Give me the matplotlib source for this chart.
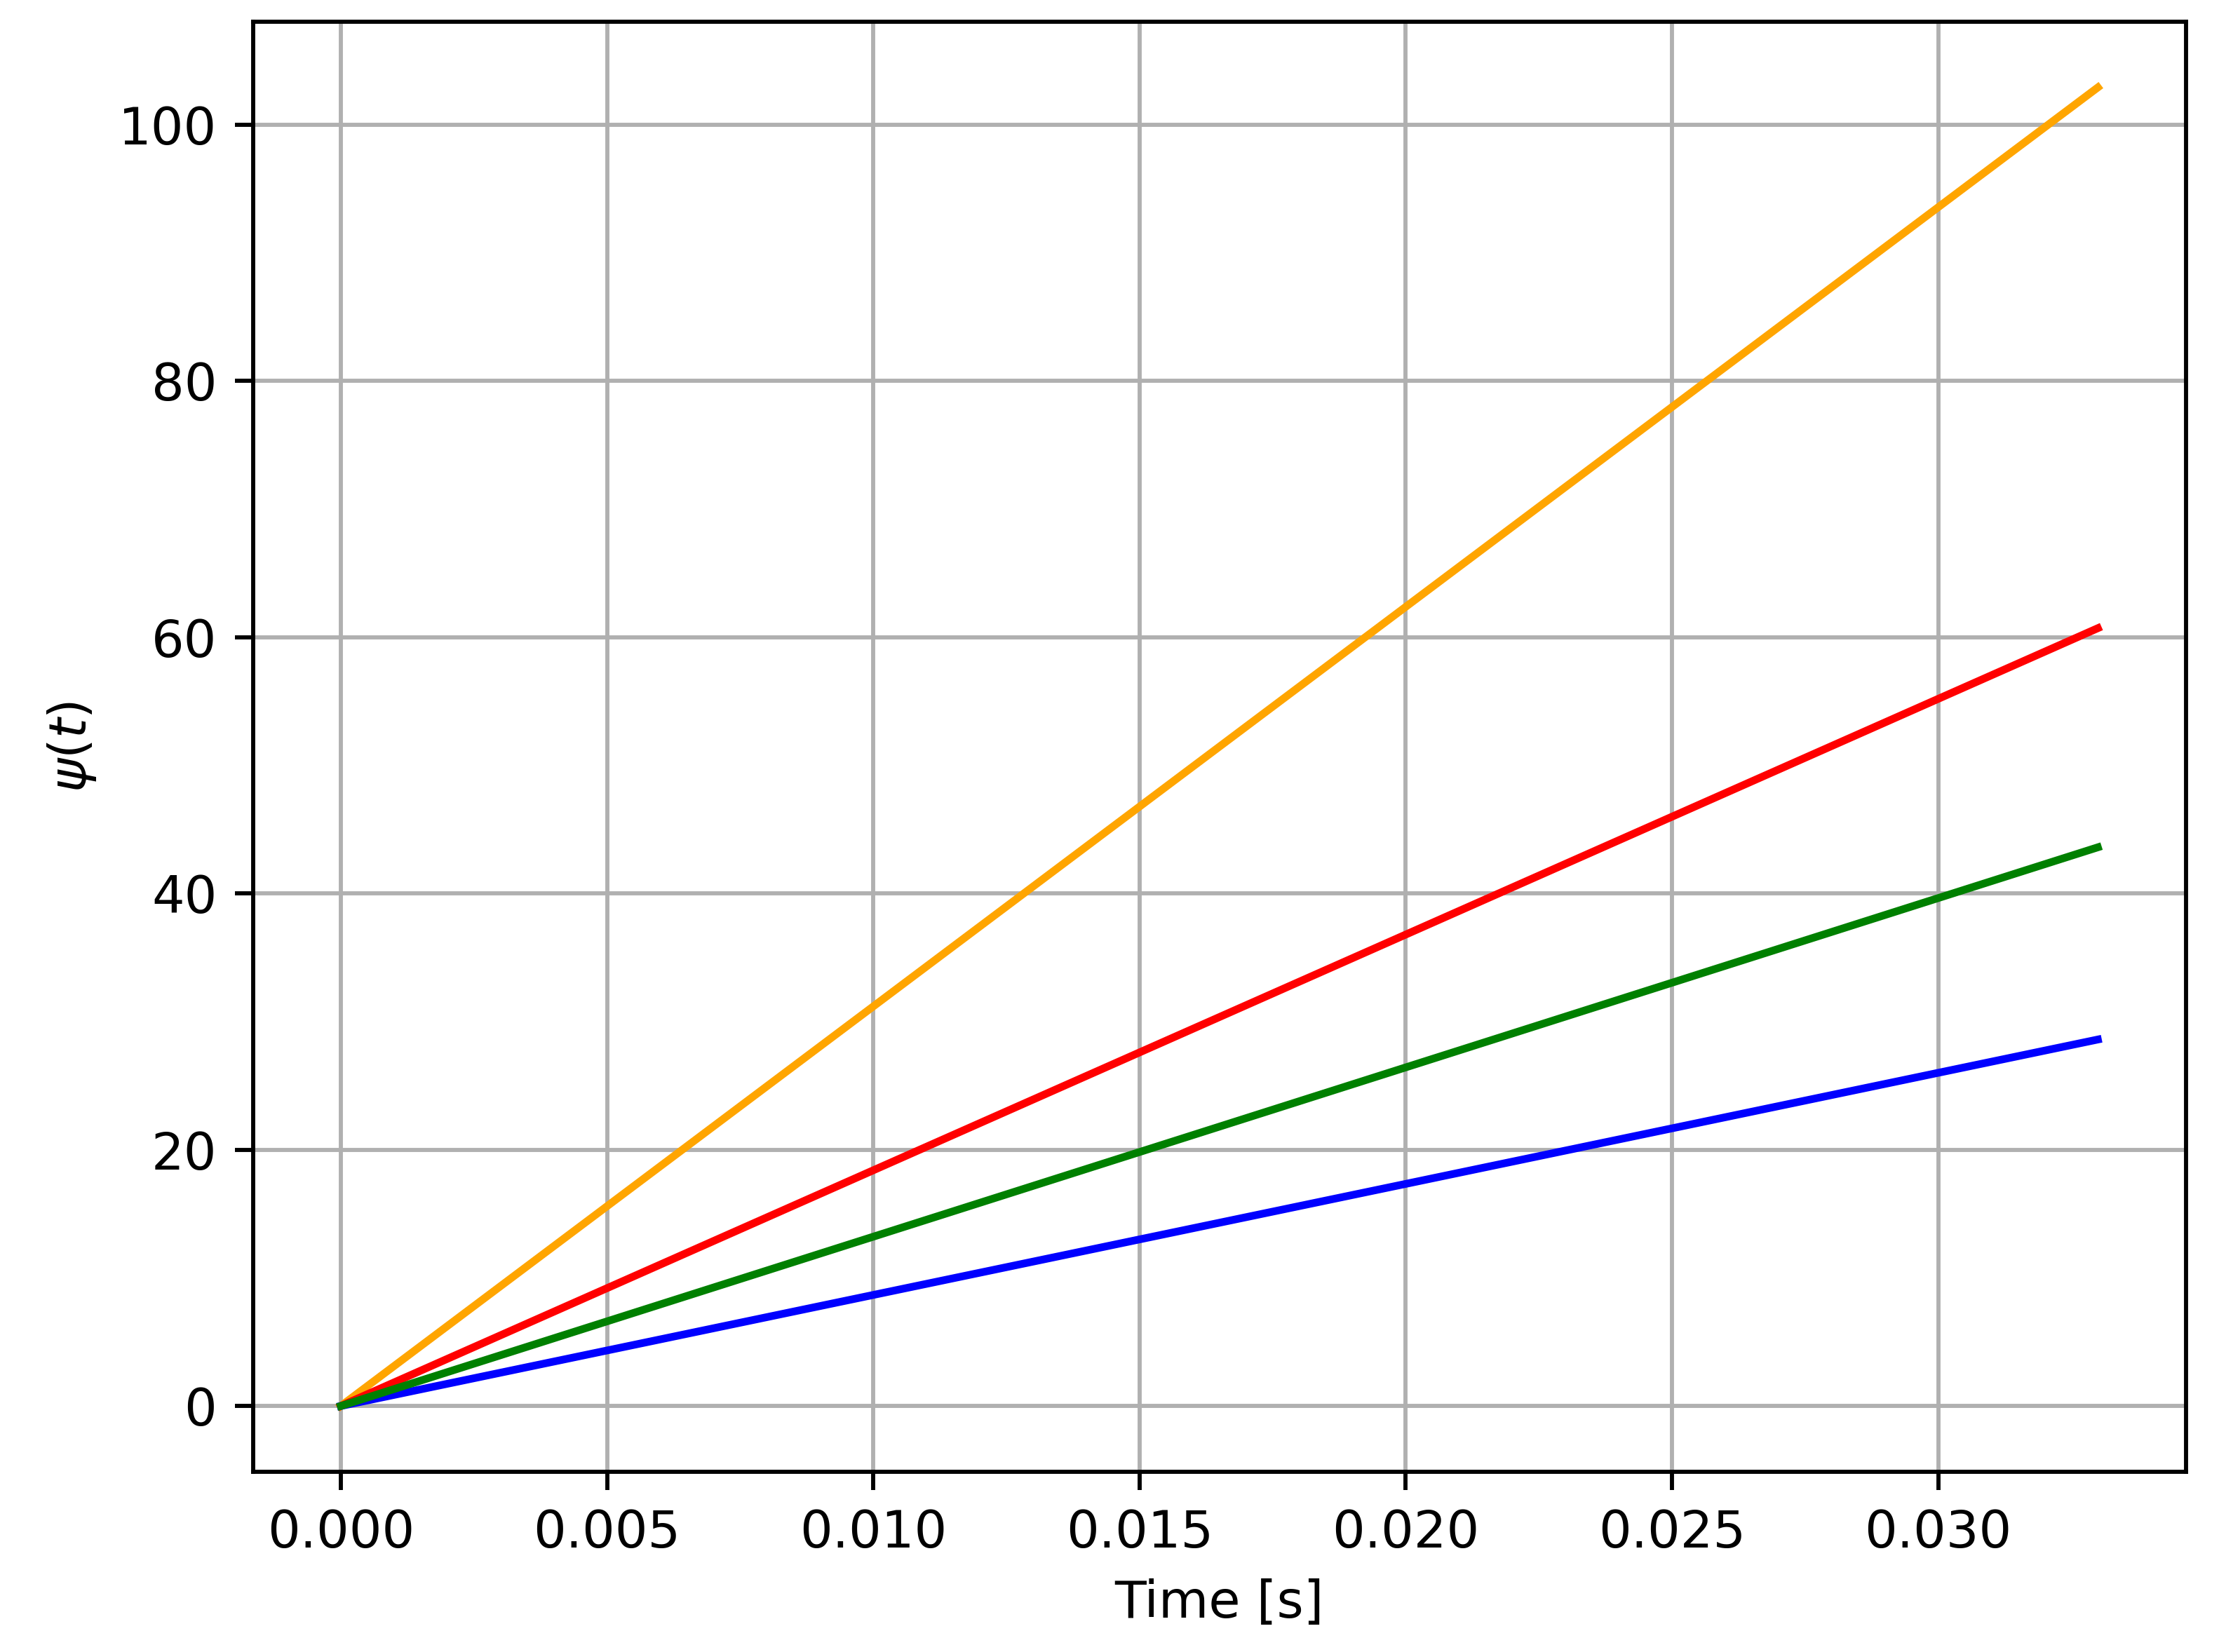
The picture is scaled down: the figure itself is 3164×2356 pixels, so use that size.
import numpy as np
import matplotlib
matplotlib.use('Agg')
import matplotlib.pyplot as plt

# time axis and flux values (start / end)
t = [0.0, 0.033]
psi_orange = [0.0, 102.9]
psi_red = [0.0, 60.7]
psi_blue = [0.0, 28.6]
psi_green = [0.0, 43.6]

dpi = 528
fig = plt.figure(figsize=(3164 / dpi, 2356 / dpi), dpi=dpi)
ax = fig.add_axes([0.114, 0.109, 0.871, 0.878])

ax.plot(t, psi_orange, color='orange')
ax.plot(t, psi_red, color='red')
ax.plot(t, psi_blue, color='blue')
ax.plot(t, psi_green, color='green')

ax.set_xlabel('Time [s]')
ax.set_ylabel(r'$\psi(t)$')
ax.grid(True)

fig.savefig('out.png', dpi=dpi)
